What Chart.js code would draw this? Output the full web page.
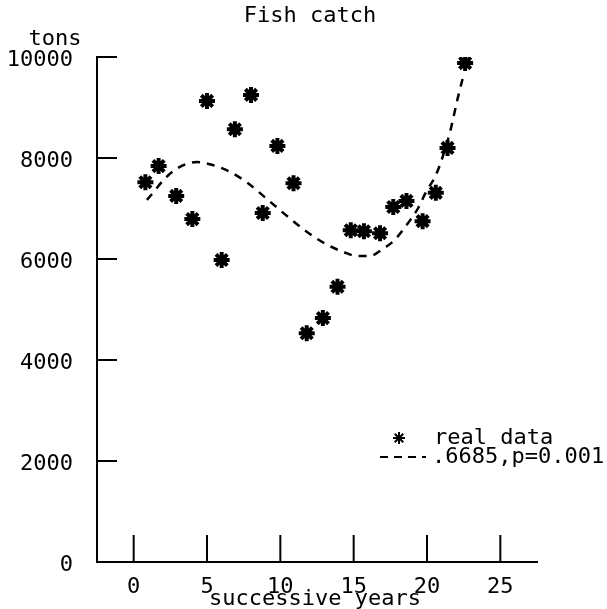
<!DOCTYPE html>
<html>
<head>
<meta charset="utf-8">
<script src="https://cdn.jsdelivr.net/npm/chart.js@4/dist/chart.umd.min.js"></script>
<style>
  html, body { margin: 0; padding: 0; background: #fff; }
  #fish_chart { display: block; }
</style>
</head>
<body>
<canvas id="fish_chart" width="607" height="609"></canvas>
<script>
// Data
const years = [0.8, 1.7, 2.9, 4.0, 5.0, 6.0, 6.9, 8.0, 8.8, 9.8, 10.9, 11.8, 12.9, 13.9, 14.8, 15.7, 16.8, 17.7, 18.6, 19.7, 20.6, 21.4, 22.6];
const catchTons = [7520, 7840, 7250, 6790, 9130, 5980, 8570, 9250, 6910, 8240, 7500, 4530, 4830, 5450, 6570, 6550, 6510, 7030, 7150, 6750, 7310, 8200, 9880];

// Fitted curve (dashed)
const fitYears = [0.9, 2.6, 4.3, 5.4, 6.6, 7.8, 9.2, 10.5, 11.8, 13.2, 14.3, 15.2, 16.1, 17.0, 17.8, 18.7, 19.4, 19.9, 20.6, 21.1, 21.6, 22.1, 22.5];
const fitTons = [7170, 7720, 7920, 7860, 7720, 7500, 7160, 6840, 6540, 6280, 6140, 6060, 6060, 6200, 6380, 6710, 7010, 7310, 7660, 8050, 8550, 9190, 9650];

// Tick labels
const xTicks = [0, 5, 10, 15, 20, 25];
const yTicks = [0, 2000, 4000, 6000, 8000, 10000];

const font = { family: 'DejaVu Sans Mono', size: 22 };
const ink = '#000';

// Inner tick marks, titles, "tons" and the legend
const decorations = {
  id: 'decorations',
  afterDraw(chart) {
    const ctx = chart.ctx;
    const area = chart.chartArea;
    const xs = chart.scales.x;
    const ys = chart.scales.y;
    ctx.save();
    ctx.strokeStyle = ink;
    ctx.lineWidth = 2;
    for (const v of yTicks) {
      if (v === 0) continue;
      const py = ys.getPixelForValue(v);
      ctx.beginPath();
      ctx.moveTo(area.left, py);
      ctx.lineTo(area.left + 20, py);
      ctx.stroke();
    }
    for (const v of xTicks) {
      const px = xs.getPixelForValue(v);
      ctx.beginPath();
      ctx.moveTo(px, area.bottom);
      ctx.lineTo(px, area.bottom - 27);
      ctx.stroke();
    }

    ctx.fillStyle = ink;
    ctx.font = '22px "DejaVu Sans Mono"';
    ctx.textBaseline = 'middle';
    ctx.textAlign = 'center';
    ctx.fillText('Fish catch', 310, 16);
    ctx.fillText('tons', 55, 39);
    ctx.fillText('successive years', 315, 599);

    // legend
    ctx.textAlign = 'left';
    Chart.helpers.drawPoint(ctx, { pointStyle: 'star', radius: 6, borderWidth: 3.5 }, 399, 438);
    ctx.fillText('real data', 434, 438);
    ctx.setLineDash([8, 6]);
    ctx.beginPath();
    ctx.moveTo(380, 457);
    ctx.lineTo(426, 457);
    ctx.stroke();
    ctx.setLineDash([]);
    ctx.fillText('.6685,p=0.001', 432, 457);
    ctx.restore();
  }
};

const ctx = document.getElementById('fish_chart').getContext('2d');
new Chart(ctx, {
  data: {
    datasets: [
      {
        type: 'scatter',
        label: 'real data',
        data: years.map((x, i) => ({ x: x, y: catchTons[i] })),
        pointStyle: 'star',
        radius: 8,
        borderWidth: 4,
        borderColor: ink,
        backgroundColor: ink,
      },
      {
        type: 'line',
        label: '.6685,p=0.001',
        data: fitYears.map((x, i) => ({ x: x, y: fitTons[i] })),
        borderColor: ink,
        borderWidth: 2.5,
        borderDash: [8, 7],
        pointRadius: 0,
        cubicInterpolationMode: 'monotone',
        fill: false,
      },
    ],
  },
  options: {
    responsive: false,
    animation: false,
    layout: { padding: { top: 57, right: 70, left: 0, bottom: 0 } },
    plugins: {
      legend: { display: false },
      title: { display: false },
      tooltip: { enabled: false },
    },
    scales: {
      x: {
        type: 'linear',
        min: -2.5,
        max: 27.5,
        afterBuildTicks: scale => { scale.ticks = xTicks.map(v => ({ value: v })); },
        grid: { display: false },
        border: { display: true, color: ink, width: 2 },
        ticks: { font: font, color: ink, padding: 4, callback: v => String(v) },
        afterFit: scale => { scale.height = 47; },
      },
      y: {
        type: 'linear',
        min: 0,
        max: 10000,
        afterBuildTicks: scale => { scale.ticks = yTicks.map(v => ({ value: v })); },
        grid: { display: false },
        border: { display: true, color: ink, width: 2 },
        ticks: { font: font, color: ink, padding: 16, labelOffset: 3, callback: v => String(v) },
        afterFit: scale => { scale.width = 97; },
      },
    },
  },
  plugins: [decorations],
});
</script>
</body>
</html>
